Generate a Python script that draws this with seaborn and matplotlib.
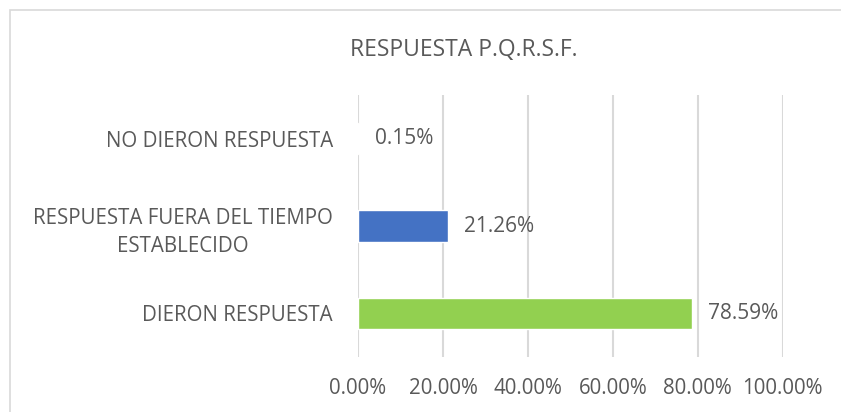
import matplotlib
matplotlib.use("Agg")
import matplotlib.pyplot as plt
import matplotlib.patches as mpatches
from matplotlib.ticker import FuncFormatter
import seaborn as sns
import pandas as pd

# Data
categories = ["NO DIERON RESPUESTA",
              "RESPUESTA FUERA DEL TIEMPO\nESTABLECIDO",
              "DIERON RESPUESTA"]
values = [0.15, 21.26, 78.59]
bar_colors = ["#ED7D31", "#4472C4", "#92D050"]
x_ticks = [0, 20, 40, 60, 80, 100]
title = "RESPUESTA P.Q.R.S.F."

df = pd.DataFrame({"categoria": categories, "porcentaje": values})

sns.set_theme(style="white")
plt.rcParams["font.family"] = ["Open Sans", "DejaVu Sans"]
text_color = "#595959"
grid_color = "#D9D9D9"

fig = plt.figure(figsize=(8.41, 4.12), dpi=100)
ax = fig.add_axes([0.4257, 0.1335, 0.505, 0.6359])

sns.barplot(data=df, y="categoria", x="porcentaje", hue="categoria",
            palette=bar_colors, orient="h", width=0.36, legend=False,
            saturation=1, ax=ax)

ax.set_xlim(0, 100)
ax.set_ylim(2.5, -0.5)
ax.set_xticks(x_ticks)
ax.xaxis.set_major_formatter(FuncFormatter(lambda v, _: f"{v:.2f}%"))
ax.grid(axis="x", color=grid_color, linewidth=1.5)
ax.set_axisbelow(True)
for s in ax.spines.values():
    s.set_visible(False)
ax.set_xlabel("")
ax.set_ylabel("")
ax.tick_params(axis="both", length=0, labelsize=14.8, colors=text_color)
ax.tick_params(axis="x", pad=15)
ax.tick_params(axis="y", pad=18)
for lbl in ax.get_yticklabels():
    lbl.set_multialignment("center")
    lbl.set_linespacing(1.45)

# Value labels at the end of each bar
for i, v in enumerate(values):
    ax.annotate(f"{v:.2f}%", xy=(v, i), xytext=(11.5, 0),
                textcoords="offset points", va="center", ha="left",
                fontsize=15, color=text_color)

fig.text(464 / 841, 1 - 50 / 412, title, ha="center", va="center",
         fontsize=16.5, color=text_color)

# Chart frame
fig.patches.append(mpatches.Rectangle((10 / 841, -0.2), 1.5, 1 - 10 / 412 + 0.2,
                                      transform=fig.transFigure, fill=False,
                                      edgecolor=grid_color, linewidth=1.2))

fig.savefig("out.png", dpi=100, facecolor="white")
